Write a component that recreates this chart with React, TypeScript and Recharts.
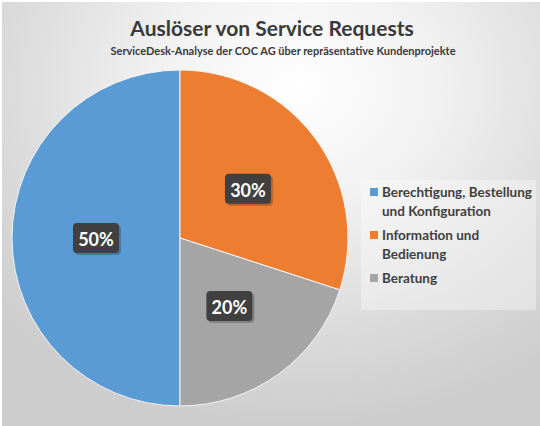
import React from 'react';
import { PieChart, Pie, Cell, Legend } from 'recharts';

const categories = ['Berechtigung, Bestellung und Konfiguration', 'Information und Bedienung', 'Beratung'];
const legendLines = [['Berechtigung, Bestellung', 'und Konfiguration'], ['Information und', 'Bedienung'], ['Beratung']];
const shares = [50, 30, 20];
const colors = ['#5B9BD5', '#ED7D31', '#A5A5A5'];

const data = categories.map((name, i) => ({ name, value: shares[i] }));

const FONT = 'Lato, "Open Sans", sans-serif';
const RADIAN = Math.PI / 180;

function renderLabel(props: any) {
  const { cx, cy, midAngle, outerRadius, value } = props;
  const r = outerRadius * 0.5;
  const x = cx + r * Math.cos(-midAngle * RADIAN);
  const y = cy + r * Math.sin(-midAngle * RADIAN);
  return (
    <g>
      <rect x={x - 21} y={y - 13} width={46} height={30} rx={4} fill="#000" opacity={0.22} />
      <rect x={x - 23} y={y - 15} width={46} height={30} rx={4} fill="#404040" />
      <text x={x} y={y + 1} fill="#fff" fontFamily={FONT} fontWeight={700} fontSize={18}
        textAnchor="middle" dominantBaseline="central">{value}%</text>
    </g>
  );
}

function LegendBox() {
  return (
    <div style={{ background: 'rgba(255,255,255,0.35)', padding: '3px 0 16px 9px', fontFamily: FONT, fontWeight: 700, fontSize: 13.5, color: '#404040', lineHeight: '18.5px' }}>
      {legendLines.map((lines, i) => (
        <div key={i} style={{ display: 'flex', marginBottom: 6 }}>
          <span style={{ width: 8, height: 8, background: colors[i], marginTop: 5, marginRight: 4, flexShrink: 0 }} />
          <span>{lines.map((l, j) => <div key={j}>{l}</div>)}</span>
        </div>
      ))}
    </div>
  );
}

export default function App() {
  return (
    <div style={{ position: 'absolute', left: 0, top: 0, width: 540, height: 426,
      background: 'radial-gradient(ellipse 75% 80% at 55% 20%, #ffffff 0%, #f1f1f1 35%, #dcdcdc 70%, #cdcdcd 100%)',
      borderTop: '2px solid #fff', borderLeft: '2px solid #fff', boxSizing: 'border-box' }}>
      <div style={{ position: 'absolute', left: 0, top: 13, width: 540, textAlign: 'center', fontFamily: FONT, fontWeight: 700, fontSize: 21, color: '#3a3a3a' }}>
        Auslöser von Service Requests
      </div>
      <div style={{ position: 'absolute', left: 0, top: 42, width: 562, textAlign: 'center', fontFamily: FONT, fontWeight: 700, fontSize: 11, color: '#3a3a3a' }}>
        ServiceDesk-Analyse der COC AG über repräsentative Kundenprojekte
      </div>
      <div style={{ position: 'absolute', left: 0, top: 0 }}>
        <PieChart width={538} height={424} margin={{ top: 0, right: 0, bottom: 0, left: 0 }}>
          <Pie data={data} dataKey="value" nameKey="name" cx={178} cy={236} outerRadius={168}
            startAngle={270} endAngle={-90} stroke="#f4f4f4" strokeWidth={1}
            label={renderLabel} labelLine={false} isAnimationActive={false}>
            {data.map((d, i) => <Cell key={d.name} fill={colors[i]} />)}
          </Pie>
          <Legend layout="vertical" align="right" verticalAlign="top" content={() => <LegendBox />}
            wrapperStyle={{ left: 359, top: 178, width: 175 }} />
        </PieChart>
      </div>
    </div>
  );
}
